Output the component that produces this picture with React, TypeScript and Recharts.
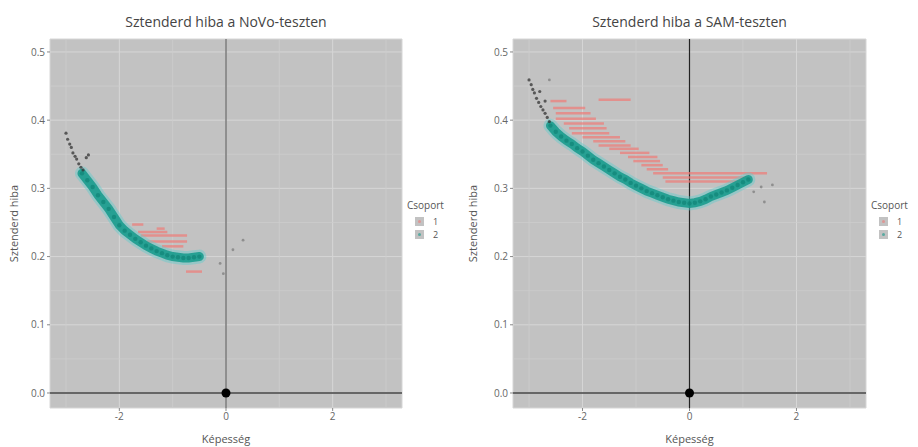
import { ScatterChart, Scatter, XAxis, YAxis, CartesianGrid, ReferenceLine, ReferenceDot } from 'recharts'

// axis ticks
const xTicks = [-2, 0, 2]
const yTicks = [0, 0.1, 0.2, 0.3, 0.4, 0.5]
const xMinor = [-3, -1, 1, 3]
const yMinor = [0.05, 0.15, 0.25, 0.35, 0.45]
const groups = ['1', '2']

// NoVo panel: group 2 (teal) curve, Képesség / sztenderd hiba
const novoTeal: [number, number][] = [
  [-2.7, 0.322], [-2.6, 0.312], [-2.5, 0.302], [-2.4, 0.29], [-2.3, 0.28], [-2.2, 0.27],
  [-2.1, 0.258], [-2.0, 0.246], [-1.9, 0.238], [-1.8, 0.232], [-1.7, 0.226], [-1.6, 0.221],
  [-1.5, 0.216], [-1.4, 0.212], [-1.3, 0.208], [-1.2, 0.205], [-1.1, 0.202], [-1.0, 0.2],
  [-0.9, 0.199], [-0.8, 0.198], [-0.7, 0.198], [-0.6, 0.199], [-0.5, 0.2],
]
// group 1 (red) points sit in horizontal rows: [from, to, hiba]
const novoRed: [number, number, number][] = [
  [-1.76, -1.55, 0.247], [-1.3, -1.15, 0.241], [-1.65, -1.1, 0.236], [-1.6, -0.73, 0.231],
  [-1.48, -0.73, 0.222], [-1.2, -0.8, 0.215], [-0.75, -0.45, 0.178],
]
const novoDark: [number, number][] = [
  [-3.0, 0.381], [-2.97, 0.372], [-2.93, 0.365], [-2.9, 0.36], [-2.87, 0.352], [-2.83, 0.347],
  [-2.8, 0.343], [-2.76, 0.336], [-2.72, 0.331], [-2.68, 0.327], [-2.62, 0.345], [-2.58, 0.349],
]
const novoGray: [number, number][] = [[-0.11, 0.19], [0.13, 0.21], [0.32, 0.224], [-0.05, 0.175]]

// SAM panel
const samTeal: [number, number][] = [
  [-2.6, 0.392], [-2.5, 0.383], [-2.4, 0.376], [-2.3, 0.37], [-2.2, 0.365], [-2.1, 0.359],
  [-2.0, 0.354], [-1.9, 0.348], [-1.8, 0.342], [-1.7, 0.337], [-1.6, 0.332], [-1.5, 0.327],
  [-1.4, 0.322], [-1.3, 0.317], [-1.2, 0.313], [-1.1, 0.308], [-1.0, 0.304], [-0.9, 0.3],
  [-0.8, 0.296], [-0.7, 0.293], [-0.6, 0.29], [-0.5, 0.287], [-0.4, 0.284], [-0.3, 0.282],
  [-0.2, 0.28], [-0.1, 0.279], [0.0, 0.278], [0.1, 0.279], [0.2, 0.281], [0.3, 0.284],
  [0.4, 0.288], [0.5, 0.291], [0.6, 0.294], [0.7, 0.297], [0.8, 0.301], [0.9, 0.305],
  [1.0, 0.309], [1.1, 0.313],
]
const samRed: [number, number, number][] = [
  [-2.6, -2.3, 0.428], [-1.7, -1.1, 0.43], [-2.55, -1.95, 0.418], [-2.5, -1.85, 0.41],
  [-2.5, -1.75, 0.402], [-2.35, -1.6, 0.395], [-2.25, -1.55, 0.388], [-2.2, -1.5, 0.381],
  [-2.0, -1.3, 0.375], [-1.8, -1.2, 0.369], [-1.7, -1.1, 0.363], [-1.5, -0.95, 0.358],
  [-1.3, -0.75, 0.352], [-1.15, -0.6, 0.346], [-1.05, -0.55, 0.34], [-0.9, -0.5, 0.334],
  [-0.8, -0.4, 0.328], [-0.68, 1.45, 0.322], [-0.5, 1.1, 0.316], [-0.45, 0.95, 0.31],
]
const samDark: [number, number][] = [
  [-3.0, 0.459], [-2.96, 0.452], [-2.93, 0.445], [-2.9, 0.44], [-2.86, 0.432], [-2.82, 0.426],
  [-2.78, 0.42], [-2.74, 0.415], [-2.7, 0.41], [-2.66, 0.404], [-2.62, 0.398], [-2.8, 0.442],
  [-2.7, 0.428],
]
const samGray: [number, number][] = [[-2.62, 0.459], [1.34, 0.302], [1.4, 0.28], [1.55, 0.305], [1.2, 0.295]]

const FONT = '"Open Sans", sans-serif'
const TEAL = '#13998a'
const RED = '#f07a76'

const toPts = (a: [number, number][]) => a.map(([x, y]) => ({ x, y }))

type PanelProps = {
  title: string
  teal: [number, number][]
  red: [number, number, number][]
  dark: [number, number][]
  gray: [number, number][]
  left: number
  yWidth: number
  right: number
  zeroColor: string
}

function Panel({ title, teal, red, dark, gray, left, yWidth, right, zeroColor }: PanelProps) {
  const W = 459
  const H = 447
  const plotW = W - yWidth - right
  return (
    <div style={{ position: 'absolute', left, top: 0, width: W, height: H }}>
      <div style={{ position: 'absolute', left: yWidth, width: plotW, top: 12, textAlign: 'center', fontFamily: FONT, fontSize: 14, color: '#444' }}>
        {title}
      </div>
      <ScatterChart width={W} height={H} margin={{ top: 39, right, bottom: 0, left: 0 }}>
        <CartesianGrid fill="#c2c2c2" stroke="#d6d6d6" strokeWidth={1} />
        {xMinor.map((v) => (
          <ReferenceLine key={'vx' + v} x={v} stroke="#cdcdcd" strokeWidth={0.8} />
        ))}
        {yMinor.map((v) => (
          <ReferenceLine key={'hy' + v} y={v} stroke="#cdcdcd" strokeWidth={0.8} />
        ))}
        <XAxis
          type="number"
          dataKey="x"
          domain={[-3.3, 3.3]}
          ticks={xTicks}
          allowDataOverflow
          height={39}
          tickSize={3}
          tickLine={{ stroke: '#888' }}
          axisLine={false}
          tick={{ fontSize: 10, fill: '#666', fontFamily: FONT }}
          label={{ value: 'Képesség', position: 'insideBottom', offset: 4, style: { fontSize: 11, fill: '#555', fontFamily: FONT } }}
        />
        <YAxis
          type="number"
          dataKey="y"
          domain={[-0.022, 0.519]}
          ticks={yTicks}
          allowDataOverflow
          width={yWidth}
          tickSize={3}
          tickLine={{ stroke: '#888' }}
          axisLine={false}
          tickFormatter={(v: number) => v.toFixed(1)}
          tick={{ fontSize: 10, fill: '#666', fontFamily: FONT }}
          label={{ value: 'Sztenderd hiba', angle: -90, position: 'insideLeft', offset: 14, style: { textAnchor: 'middle', fontSize: 11, fill: '#555', fontFamily: FONT } }}
        />
        <ReferenceLine y={0} stroke="#444" strokeWidth={1.5} />
        <ReferenceLine x={0} stroke={zeroColor} strokeWidth={1.2} />
        {red.map(([x1, x2, y], i) => (
          <ReferenceLine
            key={'r' + i}
            segment={[{ x: x1, y }, { x: x2, y }]}
            stroke={RED}
            strokeWidth={2.5}
            strokeOpacity={0.7}
          />
        ))}
        <Scatter
          data={toPts(teal)}
          isAnimationActive={false}
          line={{ stroke: '#62cccc', strokeWidth: 14, strokeOpacity: 0.45, strokeLinecap: 'round' }}
          shape={() => <g />}
        />
        <Scatter
          data={toPts(teal)}
          isAnimationActive={false}
          line={{ stroke: TEAL, strokeWidth: 9, strokeOpacity: 0.85, strokeLinecap: 'round' }}
          shape={(p: any) => <circle cx={p.cx} cy={p.cy} r={2.2} fill="#0b7f72" fillOpacity={0.6} />}
        />
        <Scatter
          data={toPts(dark)}
          isAnimationActive={false}
          shape={(p: any) => <circle cx={p.cx} cy={p.cy} r={1.6} fill="#333" fillOpacity={0.75} />}
        />
        <Scatter
          data={toPts(gray)}
          isAnimationActive={false}
          shape={(p: any) => <circle cx={p.cx} cy={p.cy} r={1.4} fill="#777" fillOpacity={0.7} />}
        />
        <ReferenceDot x={0} y={0} r={4.5} fill="#000" stroke="none" />
      </ScatterChart>
      <div style={{ position: 'absolute', left: yWidth + plotW + 5, top: 199, fontFamily: FONT, fontSize: 10, color: '#555', lineHeight: '13px' }}>
        <div style={{ marginBottom: 3 }}>Csoport</div>
        {groups.map((g, i) => (
          <div key={g} style={{ display: 'flex', alignItems: 'center', height: 13, marginLeft: 8 }}>
            <div style={{ width: 9, height: 9, background: '#c2c2c2', position: 'relative', marginRight: 9 }}>
              <div style={{ position: 'absolute', left: 3, top: 3, width: 3, height: 3, borderRadius: 2, background: i === 0 ? RED : TEAL, opacity: 0.6 }} />
            </div>
            <span style={{ fontSize: 9, lineHeight: '12px' }}>{g}</span>
          </div>
        ))}
      </div>
    </div>
  )
}

export default function App() {
  return (
    <div style={{ position: 'absolute', left: 0, top: 0, width: 918, height: 447, background: '#fff' }}>
      <Panel title="Sztenderd hiba a NoVo-teszten" teal={novoTeal} red={novoRed} dark={novoDark} gray={novoGray} left={0} yWidth={50} right={57} zeroColor="#666" />
      <Panel title="Sztenderd hiba a SAM-teszten" teal={samTeal} red={samRed} dark={samDark} gray={samGray} left={459} yWidth={54} right={52} zeroColor="#222" />
    </div>
  )
}
